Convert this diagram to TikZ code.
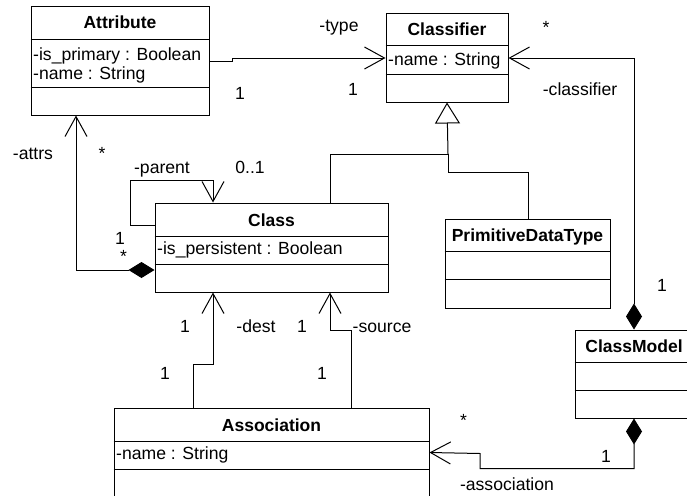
\documentclass[tikz,border=0pt]{standalone}
\usepackage{fontspec}
\setmainfont{Liberation Sans}
\usetikzlibrary{arrows.meta}
\tikzset{
  umlbox/.style={draw, line width=1pt, inner sep=0pt, fill=white},
  ttl/.style={font=\fontsize{17.5}{20}\selectfont\bfseries, anchor=base, inner sep=0pt},
  attrtxt/.style={font=\fontsize{17.6}{20}\selectfont, anchor=base west, inner sep=0pt},
  lbl/.style={font=\fontsize{17.6}{20}\selectfont, anchor=base, inner sep=0pt},
  conn/.style={line width=1pt},
  barb/.style={-{Straight Barb[length=20pt,width=22pt]}},
  compbarb/.style={{Diamond[length=26pt,width=16pt]}-{Straight Barb[length=20pt,width=22pt]}},
  gentip/.style={-{Triangle[open,length=21pt,width=25pt,fill=white]}},
  sep/.style={line width=1pt}
}
\begin{document}
\begin{tikzpicture}[x=1pt,y=-1pt]
\useasboundingbox (0,0) rectangle (687,495);
\clip (0,0) rectangle (687,495);
% boxes
\node[umlbox, minimum width=178pt, minimum height=108pt] (attr) at (120,61) {};
\node[umlbox, minimum width=122pt, minimum height=88pt] (clsf) at (447,58) {};
\node[umlbox, minimum width=233pt, minimum height=89pt] (cls) at (271.5,247.5) {};
\node[umlbox, minimum width=165pt, minimum height=89pt] (pdt) at (527.5,263.5) {};
\node[umlbox, minimum width=118pt, minimum height=88pt] (cm) at (634,374) {};
\node[umlbox, minimum width=315pt, minimum height=89pt] (assoc) at (271.5,452.5) {};
% separators
\draw[sep] (attr.west |- {(0,40)}) -- (attr.east |- {(0,40)});
\draw[sep] (attr.west |- {(0,87)}) -- (attr.east |- {(0,87)});
\draw[sep] (clsf.west |- {(0,46)}) -- (clsf.east |- {(0,46)});
\draw[sep] (clsf.west |- {(0,74)}) -- (clsf.east |- {(0,74)});
\draw[sep] (cls.west |- {(0,236)}) -- (cls.east |- {(0,236)});
\draw[sep] (cls.west |- {(0,264)}) -- (cls.east |- {(0,264)});
\draw[sep] (pdt.west |- {(0,251)}) -- (pdt.east |- {(0,251)});
\draw[sep] (pdt.west |- {(0,279)}) -- (pdt.east |- {(0,279)});
\draw[sep] (cm.west |- {(0,362)}) -- (cm.east |- {(0,362)});
\draw[sep] (cm.west |- {(0,390)}) -- (cm.east |- {(0,390)});
\draw[sep] (assoc.west |- {(0,441)}) -- (assoc.east |- {(0,441)});
\draw[sep] (assoc.west |- {(0,469)}) -- (assoc.east |- {(0,469)});
% titles
\node[ttl] (tattr) at (attr.north |- {(0,29)}) {Attribute};
\node[ttl] (tclsf) at (clsf.north |- {(0,36)}) {Classifier};
\node[ttl] (tcls) at (cls.north |- {(0,226)}) {Class};
\node[ttl] (tpdt) at (pdt.north |- {(0,241)}) {PrimitiveDataType};
\node[ttl] (tcm) at (cm.north |- {(0,352)}) {ClassModel};
\node[ttl] (tassoc) at (assoc.north |- {(0,431)}) {Association};
% attributes
\node[attrtxt] (a1) at (33,60) {-is\_primary : Boolean};
\node[attrtxt] (a2) at (33,79) {-name : String};
\node[attrtxt] (a3) at (388,65) {-name : String};
\node[attrtxt] (a4) at (157,254) {-is\_persistent : Boolean};
\node[attrtxt] (a5) at (116,459) {-name : String};
% junction coordinates
\coordinate (gj1) at (448,154);
\coordinate (gj2) at (448,172);
% connectors
\draw[conn, barb] (attr.east |- {(0,61)}) -- ++(23,0) |- (clsf.west |- {(0,58)});
\draw[conn] (cls.north -| {(330,0)}) |- (gj1);
\draw[conn] (pdt.north -| {(528,0)}) |- (gj2) -- (gj1);
\draw[conn, gentip] (gj1) -- (clsf.south);
\draw[conn, compbarb] (cm.north) |- (clsf.east |- {(0,58)});
\draw[conn, barb] (cls.west |- {(0,225)}) -- ++(-24,0) -- ++(0,-45) -| (cls.north -| {(213,0)});
\draw[conn, compbarb] (cls.west |- {(0,270)}) -| (attr.south -| {(76,0)});
\draw[conn, barb] (assoc.north -| {(193,0)}) -- ++(0,-43) -| (cls.south -| {(213,0)});
\draw[conn, barb] (assoc.north -| {(351,0)}) -- ++(0,-77) -| (cls.south -| {(330,0)});
\draw[conn, compbarb] (cm.south) |- ++(-154,50) -- ++(0,-15) -- (assoc.east);
% labels
\node[lbl] (l1) at (339,32) {-type};
\node[lbl] (l2) at (240,99) {1};
\node[lbl] (l3) at (353,95) {1};
\node[lbl] (l4) at (546,34) {*};
\node[lbl] (l5) at (580,95) {-classifier};
\node[lbl] (l6) at (662,291) {1};
\node[lbl] (l7) at (33,159) {-attrs};
\node[lbl] (l8) at (102,159) {*};
\node[lbl] (l9) at (162,173) {-parent};
\node[lbl] (l10) at (250,173) {0..1};
\node[lbl] (l11) at (120,244) {1};
\node[lbl] (l12) at (123.5,262) {*};
\node[lbl] (l13) at (185,332) {1};
\node[lbl] (l14) at (256,332) {-dest};
\node[lbl] (l15) at (302,332) {1};
\node[lbl] (l16) at (382,332) {-source};
\node[lbl] (l17) at (165,379) {1};
\node[lbl] (l18) at (322,379) {1};
\node[lbl] (l19) at (463.5,426) {*};
\node[lbl] (l20) at (606,462) {1};
\node[lbl] (l21) at (507,490) {-association};
\end{tikzpicture}
\end{document}
